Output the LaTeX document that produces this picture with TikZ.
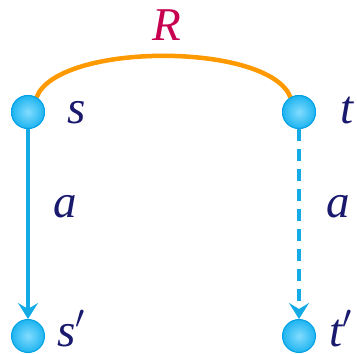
\RequirePackage{fix-cm}
\documentclass[tikz,border=0pt]{standalone}
\usepackage{fontspec}
\setmainfont{Liberation Serif}
\usetikzlibrary{arrows.meta}
\definecolor{ballin}{RGB}{130,220,255}
\definecolor{ballout}{RGB}{30,180,240}
\definecolor{balledge}{RGB}{0,160,230}
\definecolor{linkblue}{RGB}{20,170,230}
\definecolor{arcorange}{RGB}{255,153,0}
\definecolor{navy}{RGB}{25,25,110}
\definecolor{crim}{RGB}{200,0,80}
\begin{document}
\begin{tikzpicture}[x=1pt,y=-1pt,
  ball/.style={circle,minimum size=33pt,inner sep=0pt,draw=balledge,line width=1pt,inner color=ballin,outer color=ballout},
  lab/.style={text=navy,font=\fontsize{47}{47}\selectfont\itshape,inner sep=0pt,anchor=base},
  link/.style={draw=linkblue,line width=3.5pt,-{Stealth[length=16pt,width=20pt,inset=6pt]}},
  rel/.style={draw=arcorange,line width=4.5pt}]
\useasboundingbox (0,0) rectangle (357,354);
\node[ball] (s) at (28,112) {};
\node[ball] (t) at (299,112) {};
\node[ball] (s2) at (28,336) {};
\node[ball] (t2) at (299,336) {};
\draw[rel] (s.60) .. controls (58,42) and (269,42) .. (t.120);
\node[ball] at (28,112) {};
\node[ball] at (299,112) {};
\node[lab] (ls) at (77,123) {s};
\node[lab] (lt) at (347,123) {t};
\node[lab] (ls2) at (71,346) {s$'$};
\node[lab] (lt2) at (341,346) {t$'$};
\node[lab,text=crim] (lr) at (167,40) {R};
\node[lab] (la1) at (65,217) {a};
\node[lab] (la2) at (338,217) {a};
\draw[link] (s) -- (s2);
\draw[link,dash pattern=on 12pt off 8pt] (t) -- (t2);
\end{tikzpicture}
\end{document}
